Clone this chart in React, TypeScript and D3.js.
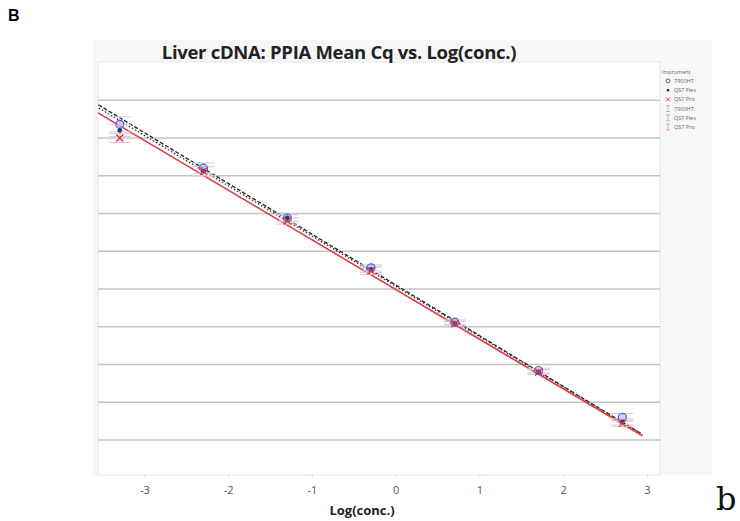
import React from 'react';
import * as d3 from 'd3';

// mean Cq per dilution
const logConc = [-3.3, -2.3, -1.3, -0.3, 0.7, 1.7, 2.7];
const instruments = ['7900HT', 'QS7 Flex', 'QS7 Pro'];
const cq7900 = [33.4, 30.5, 27.2, 23.9, 20.3, 17.1, 14.0];
const cqFlex = [33.0, 30.3, 27.2, 23.8, 20.2, 17.0, 13.7];
const cqPro = [32.5, 30.3, 27.0, 23.7, 20.2, 17.0, 13.6];
const sd7900 = [0.5, 0.35, 0.25, 0.2, 0.15, 0.15, 0.25];
const sdFlex = [0.4, 0.3, 0.2, 0.2, 0.15, 0.15, 0.2];
const sdPro = [0.3, 0.3, 0.2, 0.25, 0.15, 0.15, 0.2];
// fitted lines (intercept, slope)
const fitIntercept = [22.75, 22.66, 22.45];
const fitSlope = [-3.36, -3.33, -3.29];
const fitRange = [-3.8, 2.94];
const xTicks = [-3, -2, -1, 0, 1, 2, 3];
const yGrid = [12.5, 15, 17.5, 20, 22.5, 25, 27.5, 30, 32.5, 35];

const W = 740;
const H = 521;
const plot = { left: 98, right: 660, top: 62, bottom: 475 };

const x = d3.scaleLinear().domain([-3.56, 3.15]).range([plot.left, plot.right]);
const y = d3.scaleLinear().domain([10.18, 37.53]).range([plot.bottom, plot.top]);

const markColor = ['#4a6ad0', '#2a3590', '#e03040'];
const barColor = ['#c4d0f0', '#cfcfdc', '#f6c0c6'];
const lineColor = ['#222', '#333', '#e03a48'];
const lineDash = ['4,2', '1.5,2', null];

export default function App() {
  const series = [cq7900, cqFlex, cqPro];
  const sds = [sd7900, sdFlex, sdPro];
  const line = d3.line<number>().x(v => x(v));

  return (
    <svg width={W} height={H} style={{ position: 'absolute', left: 0, top: 0, background: '#fff' }}
      fontFamily="'Open Sans', 'Noto Sans', sans-serif">
      <defs>
        <clipPath id="plotclip">
          <rect x={plot.left} y={plot.top} width={plot.right - plot.left} height={plot.bottom - plot.top} />
        </clipPath>
      </defs>
      <text x={8} y={21} fontSize={16} fontWeight="bold" fontFamily="'Liberation Sans', Arial, sans-serif">B</text>

      {/* figure panel */}
      <rect x={93} y={40} width={619} height={plot.bottom - 40} fill="#f7f7f7" />
      <rect x={plot.left} y={plot.top} width={plot.right - plot.left} height={plot.bottom - plot.top}
        fill="#fff" stroke="#e6e6e6" />
      <text x={339} y={59} textAnchor="middle" fontSize={18.5} fontWeight="bold" fill="#222"
        letterSpacing={-0.3}>
        Liver cDNA: PPIA Mean Cq vs. Log(conc.)
      </text>

      {yGrid.map(g => (
        <line key={g} x1={plot.left} x2={plot.right} y1={y(g)} y2={y(g)} stroke="#c4c4c4" strokeWidth={1.5} />
      ))}

      <g clipPath="url(#plotclip)">
        {instruments.map((name, i) => {
          const d = line.y(v => y(fitIntercept[i] + fitSlope[i] * v))(fitRange);
          return (
            <path key={name} d={d || ''} fill="none" stroke={lineColor[i]}
              strokeWidth={i === 2 ? 1.6 : 1.3} strokeDasharray={lineDash[i] || undefined} />
          );
        })}

        {instruments.map((name, i) => (
          <g key={name}>
            {logConc.map((lc, j) => {
              const cx = x(lc);
              const top = y(series[i][j] + sds[i][j]);
              const bot = y(series[i][j] - sds[i][j]);
              return (
                <g key={j} stroke={barColor[i]} strokeWidth={1}>
                  <line x1={cx} x2={cx} y1={top} y2={bot} />
                  <line x1={cx - 11} x2={cx + 11} y1={top} y2={top} />
                  <line x1={cx - 11} x2={cx + 11} y1={bot} y2={bot} />
                </g>
              );
            })}
          </g>
        ))}

        {logConc.map((lc, j) => {
          const cx = x(lc);
          const yp = y(cqPro[j]);
          return (
            <g key={j}>
              <circle cx={cx} cy={y(cq7900[j])} r={4} fill="#d4a8e0" fillOpacity={0.55}
                stroke={markColor[0]} strokeWidth={1.2} />
              <circle cx={cx} cy={y(cqFlex[j])} r={2.4} fill={markColor[1]} />
              <path d={`M${cx - 3.5},${yp - 3.5}L${cx + 3.5},${yp + 3.5}M${cx - 3.5},${yp + 3.5}L${cx + 3.5},${yp - 3.5}`}
                stroke={markColor[2]} strokeWidth={1.3} />
            </g>
          );
        })}
      </g>

      {/* legend */}
      <g fontSize={5.5} fill="#666">
        <text x={662} y={74}>Instrument</text>
        {instruments.map((name, i) => {
          const ly = 83 + i * 9.2;
          return (
            <g key={name}>
              {i === 0 && <circle cx={668} cy={ly - 2} r={2} fill="none" stroke="#555" strokeWidth={0.9} />}
              {i === 1 && <circle cx={668} cy={ly - 2} r={1.3} fill="#222" />}
              {i === 2 && <path d={`M666,${ly - 4}L670,${ly}M666,${ly}L670,${ly - 4}`} stroke={markColor[2]} strokeWidth={0.9} />}
              <text x={674} y={ly}>{name}</text>
            </g>
          );
        })}
        {instruments.map((name, i) => {
          const ly = 83 + (i + 3) * 9.2;
          const c = i === 2 ? '#e88' : '#aaa';
          return (
            <g key={'e' + name}>
              <path d={`M666,${ly - 5}H670M668,${ly - 5}V${ly + 1}M666,${ly + 1}H670`} stroke={c} strokeWidth={0.8} />
              <text x={674} y={ly}>{name}</text>
            </g>
          );
        })}
      </g>

      {/* x axis */}
      {xTicks.map(t => (
        <g key={t}>
          <line x1={x(t)} x2={x(t)} y1={plot.bottom} y2={plot.bottom + 3} stroke="#ddd" />
          <text x={x(t)} y={494} textAnchor="middle" fontSize={11} fill="#555">{t}</text>
        </g>
      ))}
      <text x={362} y={515} textAnchor="middle" fontSize={13} fontWeight="bold" fill="#222">Log(conc.)</text>

      <text x={716} y={510} fontSize={32} fontFamily="'DejaVu Serif', serif" fill="#111">b</text>
    </svg>
  );
}
